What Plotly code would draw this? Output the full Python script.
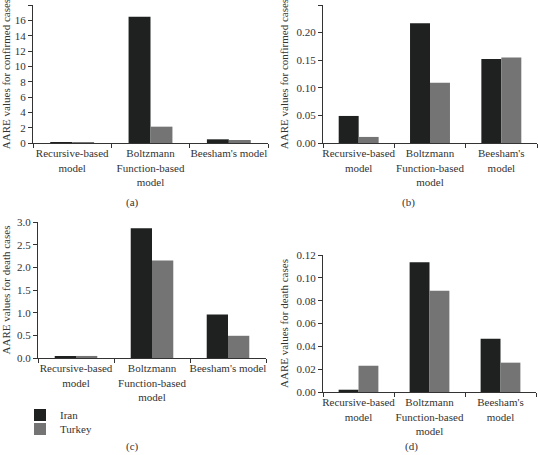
import plotly.graph_objects as go

models_ac = ["Recursive-based<br>model", "Boltzmann<br>Function-based<br>model", "Beesham's model"]
models_bd = ["Recursive-based<br>model", "Boltzmann<br>Function-based<br>model", "Beesham's<br>model"]

a_iran = [0.03, 16.47, 0.48]
a_turkey = [0.10, 2.13, 0.39]
b_iran = [0.049, 0.217, 0.152]
b_turkey = [0.011, 0.109, 0.155]
c_iran = [0.025, 2.86, 0.96]
c_turkey = [0.045, 2.15, 0.49]
d_iran = [0.002, 0.1136, 0.0467]
d_turkey = [0.023, 0.0887, 0.0257]

IRAN_C = "#1f2121"
TURKEY_C = "#747474"
FONT = "Liberation Serif"
W, H = 538, 455

fig = go.Figure()

panels = [
    ("x", "y", models_ac, a_iran, a_turkey, True),
    ("x2", "y2", models_bd, b_iran, b_turkey, False),
    ("x3", "y3", models_ac, c_iran, c_turkey, False),
    ("x4", "y4", models_bd, d_iran, d_turkey, False),
]
for xa, ya, cats, iran, turkey, show in panels:
    fig.add_trace(go.Bar(x=cats, y=iran, name="Iran", marker_color=IRAN_C,
                         marker_line_width=0, xaxis=xa, yaxis=ya,
                         showlegend=show, legend="legend"))
    fig.add_trace(go.Bar(x=cats, y=turkey, name="Turkey", marker_color=TURKEY_C,
                         marker_line_width=0, xaxis=xa, yaxis=ya,
                         showlegend=show, legend="legend2"))

def px_x(a, b):
    return [a / W, b / W]

def px_y(top, bottom):
    return [(H - bottom) / H, (H - top) / H]

axis_common = dict(showline=True, linecolor="#333333", linewidth=1,
                   ticks="outside", ticklen=4, tickcolor="#333333",
                   showgrid=False, zeroline=False,
                   tickfont=dict(family=FONT, size=11, color="#333333"))

xdefs = {
    "xaxis": (px_x(33, 268), "y"),
    "xaxis2": (px_x(323, 537), "y2"),
    "xaxis3": (px_x(38, 266), "y3"),
    "xaxis4": (px_x(323, 536), "y4"),
}
for k, (dom, anc) in xdefs.items():
    fig.layout[k] = dict(domain=dom, anchor=anc, type="category", tickangle=0,
                         tickson="boundaries", **axis_common)

ydefs = {
    "yaxis": (px_y(5, 143), "x", [0, 18], 2, "d", "AARE values for confirmed cases"),
    "yaxis2": (px_y(5, 143), "x2", [0, 0.25], 0.05, ".2f", "AARE values for confirmed cases"),
    "yaxis3": (px_y(222, 358), "x3", [0, 3.0], 0.5, ".1f", "AARE values for death cases"),
    "yaxis4": (px_y(255, 392), "x4", [0, 0.12], 0.02, ".2f", "AARE values for death cases"),
}
for k, (dom, anc, rng, dt, fmt, title) in ydefs.items():
    fig.layout[k] = dict(domain=dom, anchor=anc, range=rng, dtick=dt,
                         tickformat=fmt, tick0=0,
                         title=dict(text=title, standoff=5,
                                    font=dict(family=FONT, size=11, color="#333333")),
                         **axis_common)

labels = [("(a)", 132, 202), ("(b)", 408, 202), ("(c)", 132, 446), ("(d)", 411, 446)]
for t, x, y in labels:
    fig.add_annotation(text=t, x=x / W, y=(H - y) / H, xref="paper", yref="paper",
                       showarrow=False, xanchor="center", yanchor="middle",
                       font=dict(family=FONT, size=11, color="#333333"))

leg_common = dict(xanchor="left", yanchor="middle",
                  font=dict(family=FONT, size=11, color="#333333"),
                  bgcolor="rgba(0,0,0,0)", itemwidth=30, borderwidth=0)

fig.update_layout(
    width=W, height=H,
    margin=dict(l=0, r=0, t=0, b=0, autoexpand=False),
    paper_bgcolor="white", plot_bgcolor="white",
    barmode="group", bargap=0.44, bargroupgap=0,
    font=dict(family=FONT, size=11, color="#333333"),
    legend=dict(x=20 / W, y=(H - 415) / H, **leg_common),
    legend2=dict(x=20 / W, y=(H - 429) / H, **leg_common),
)

fig.write_html("out.html",
               config={"displayModeBar": False},
               post_script="document.body.style.margin='0';document.body.style.overflow='hidden';")
